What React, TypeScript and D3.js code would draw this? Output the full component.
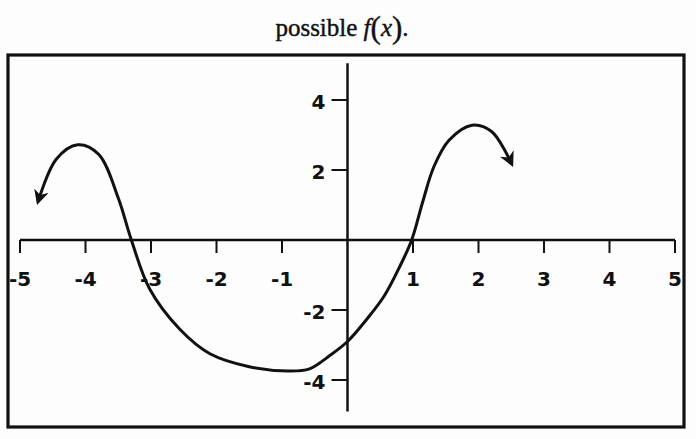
import React from "react";
import * as d3 from "d3";

// Sketched curve y = f(x), read as (x, y) pairs
const curveX = [-4.72, -4.45, -4.12, -3.8, -3.5, -3.3, -3.02, -2.56, -2.1, -1.5, -0.9, -0.58, -0.27, 0, 0.3, 0.56, 0.8, 0.98, 1.15, 1.32, 1.55, 1.9, 2.2, 2.5];
const curveY = [1.12, 2.3, 2.72, 2.45, 1.2, 0, -1.4, -2.55, -3.25, -3.62, -3.74, -3.68, -3.3, -2.9, -2.25, -1.6, -0.75, 0, 1.1, 2.1, 2.85, 3.28, 3.1, 2.2];

const xTicks = [-5, -4, -3, -2, -1, 1, 2, 3, 4, 5];
const yTicks = [4, 2, -2, -4];

const W = 696;
const H = 439;

export default function App() {
  const x = d3.scaleLinear().domain([-5, 5]).range([20, 675]);
  const y = d3.scaleLinear().domain([0, 4]).range([240, 100]);

  const pts: [number, number][] = curveX.map((v, i) => [v, curveY[i]]);
  const line = d3
    .line<[number, number]>()
    .x((d) => x(d[0]))
    .y((d) => y(d[1]))
    .curve(d3.curveCatmullRom.alpha(0.5));

  const labelFont = "'DejaVu Sans', sans-serif";
  const fmt = (t: number) => (t < 0 ? "-" + Math.abs(t) : String(t));

  return (
    <svg
      width={W}
      height={H}
      style={{ position: "absolute", left: 0, top: 0, background: "#fdfdfd" }}
    >
      <defs>
        <marker
          id="arrow"
          viewBox="0 0 10 10"
          refX="7"
          refY="5"
          markerWidth="5"
          markerHeight="5"
          orient="auto-start-reverse"
          markerUnits="strokeWidth"
        >
          <path d="M0,0 L10,5 L0,10 L3,5 Z" fill="#111" />
        </marker>
      </defs>

      {/* title */}
      <text
        x={342}
        y={36}
        textAnchor="middle"
        fontFamily="'Liberation Serif', 'DejaVu Serif', serif"
        fontSize={25}
        fill="#111"
        stroke="#111"
        strokeWidth={0.4}
      >
        possible <tspan fontStyle="italic">f</tspan>
        <tspan fontSize={31} dy={2}>(</tspan>
        <tspan fontStyle="italic" dy={-2}>x</tspan>
        <tspan fontSize={31} dy={2}>)</tspan>
        <tspan dy={-2}>.</tspan>
      </text>

      {/* frame */}
      <rect x={8} y={55} width={676} height={372} fill="none" stroke="#111" strokeWidth={3.2} />

      {/* x axis */}
      <line x1={x(-5)} x2={x(5)} y1={y(0)} y2={y(0)} stroke="#111" strokeWidth={2.5} />
      {xTicks.map((t) => (
        <g key={"xt" + t}>
          <line x1={x(t)} x2={x(t)} y1={y(0)} y2={y(0) + 13} stroke="#111" strokeWidth={2} />
          <text
            x={x(t)}
            y={y(0) + 46}
            textAnchor="middle"
            fontFamily={labelFont}
            fontWeight="bold"
            fontSize={20}
            fill="#111"
          >
            {fmt(t)}
          </text>
        </g>
      ))}

      {/* y axis */}
      <line x1={x(0)} x2={x(0)} y1={y(5.05)} y2={y(-4.9)} stroke="#111" strokeWidth={2.5} />
      {yTicks.map((t) => (
        <g key={"yt" + t}>
          <line x1={x(0) - 16} x2={x(0)} y1={y(t)} y2={y(t)} stroke="#111" strokeWidth={2} />
          <text
            x={x(0) - 22}
            y={y(t) + 9}
            textAnchor="end"
            fontFamily={labelFont}
            fontWeight="bold"
            fontSize={20}
            fill="#111"
          >
            {fmt(t)}
          </text>
        </g>
      ))}

      {/* curve */}
      <path
        d={line(pts) ?? ""}
        fill="none"
        stroke="#111"
        strokeWidth={3}
        strokeLinecap="round"
        markerStart="url(#arrow)"
        markerEnd="url(#arrow)"
      />
    </svg>
  );
}
